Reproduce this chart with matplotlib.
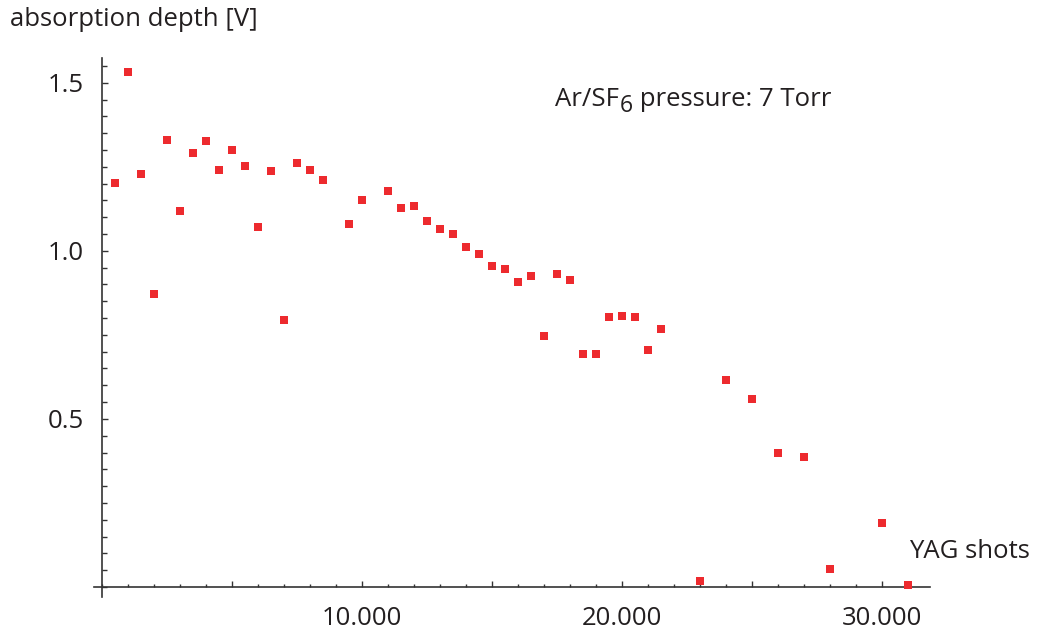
import matplotlib
matplotlib.use("Agg")
import matplotlib.pyplot as plt
from matplotlib.ticker import FixedLocator, MultipleLocator, FixedFormatter
from matplotlib.transforms import offset_copy

# data
shots = [500, 1000, 1500, 2000, 2500, 3000, 3500, 4000, 4500, 5000, 5500, 6000,
         6500, 7000, 7500, 8000, 8500, 9500, 10000, 11000, 11500, 12000, 12500,
         13000, 13500, 14000, 14500, 15000, 15500, 16000, 16500, 17000, 17500,
         18000, 18500, 19000, 19500, 20000, 20500, 21000, 21500,
         23000, 24000, 25000, 26000, 27000, 28000, 30000, 31000]
depth = [1.203, 1.531, 1.230, 0.873, 1.331, 1.120, 1.290, 1.328, 1.242, 1.299,
         1.254, 1.072, 1.239, 0.795, 1.263, 1.242, 1.212, 1.081, 1.150, 1.179,
         1.129, 1.135, 1.090, 1.066, 1.051, 1.013, 0.992, 0.956, 0.947, 0.906,
         0.926, 0.748, 0.932, 0.912, 0.694, 0.694, 0.804, 0.807, 0.804, 0.706,
         0.769, 0.019, 0.617, 0.560, 0.400, 0.388, 0.054, 0.191, 0.007]

x_major = [5000, 10000, 15000, 20000, 25000, 30000]
x_labels = ["", "10.000", "", "20.000", "", "30.000"]
y_major = [0.5, 1.0, 1.5]
y_labels = ["0.5", "1.0", "1.5"]

W, H = 1040, 631
fig = plt.figure(figsize=(W / 100, H / 100), dpi=100)
txt = "#231f20"
font = "Open Sans"
plt.rcParams['font.family'] = [font, 'DejaVu Sans']
fs = 18.5

ax = fig.add_axes([94.2 / W, (H - 597) / H, (930 - 94.2) / W, (597 - 58) / H])
ax.set_xlim(-300, 31846)
ax.set_ylim(-0.03, 1.574)

for s in ["top", "right"]:
    ax.spines[s].set_visible(False)
ax.spines["left"].set_position(("data", 0))
ax.spines["bottom"].set_position(("data", 0))
for s in ["left", "bottom"]:
    ax.spines[s].set_color("#333333")
    ax.spines[s].set_linewidth(1.2)

ax.scatter(shots, depth, marker="s", s=26, color="#ed2a2e", linewidths=0, zorder=3,
           clip_on=False)

ax.xaxis.set_major_locator(FixedLocator(x_major))
ax.xaxis.set_major_formatter(FixedFormatter(x_labels))
ax.xaxis.set_minor_locator(MultipleLocator(1000))
ax.yaxis.set_major_locator(FixedLocator(y_major))
ax.yaxis.set_major_formatter(FixedFormatter(y_labels))
ax.yaxis.set_minor_locator(MultipleLocator(0.05))

ax.tick_params(axis="x", which="major", direction="in", length=4.5, width=1.0,
               color="#333333", pad=14, labelsize=fs, labelcolor=txt)
ax.tick_params(axis="x", which="minor", direction="in", length=2.5, width=1.0,
               color="#333333")
ax.tick_params(axis="y", which="major", direction="in", length=4.5, width=1.0,
               color="#333333", pad=13, labelsize=fs, labelcolor=txt)
ax.tick_params(axis="y", which="minor", direction="in", length=3.5, width=1.0,
               color="#333333")

fig.text(10 / W, 1 - 20 / H, "absorption depth [V]", ha="left", va="center",
         fontsize=fs, color=txt)
fig.text(1030 / W, 1 - 552 / H, "YAG shots", ha="right", va="center",
         fontsize=fs, color=txt)

# annotation with a large, dropped subscript
renderer = fig.canvas.get_renderer()
x0, y0 = 555 / W, 1 - 106 / H
t1 = fig.text(x0, y0, "Ar/SF", ha="left", va="baseline", fontsize=fs, color=txt)
w1 = t1.get_window_extent(renderer).width
t2 = fig.text(x0, y0, "6", ha="left", va="baseline", fontsize=fs * 0.9, color=txt,
              transform=offset_copy(fig.transFigure, fig=fig, x=w1 + 1, y=-6, units="dots"))
w2 = t2.get_window_extent(renderer).width
fig.text(x0, y0, " pressure: 7 Torr", ha="left", va="baseline", fontsize=fs, color=txt,
         transform=offset_copy(fig.transFigure, fig=fig, x=w1 + w2 + 1, y=0, units="dots"))

fig.savefig("out.png", dpi=100)
